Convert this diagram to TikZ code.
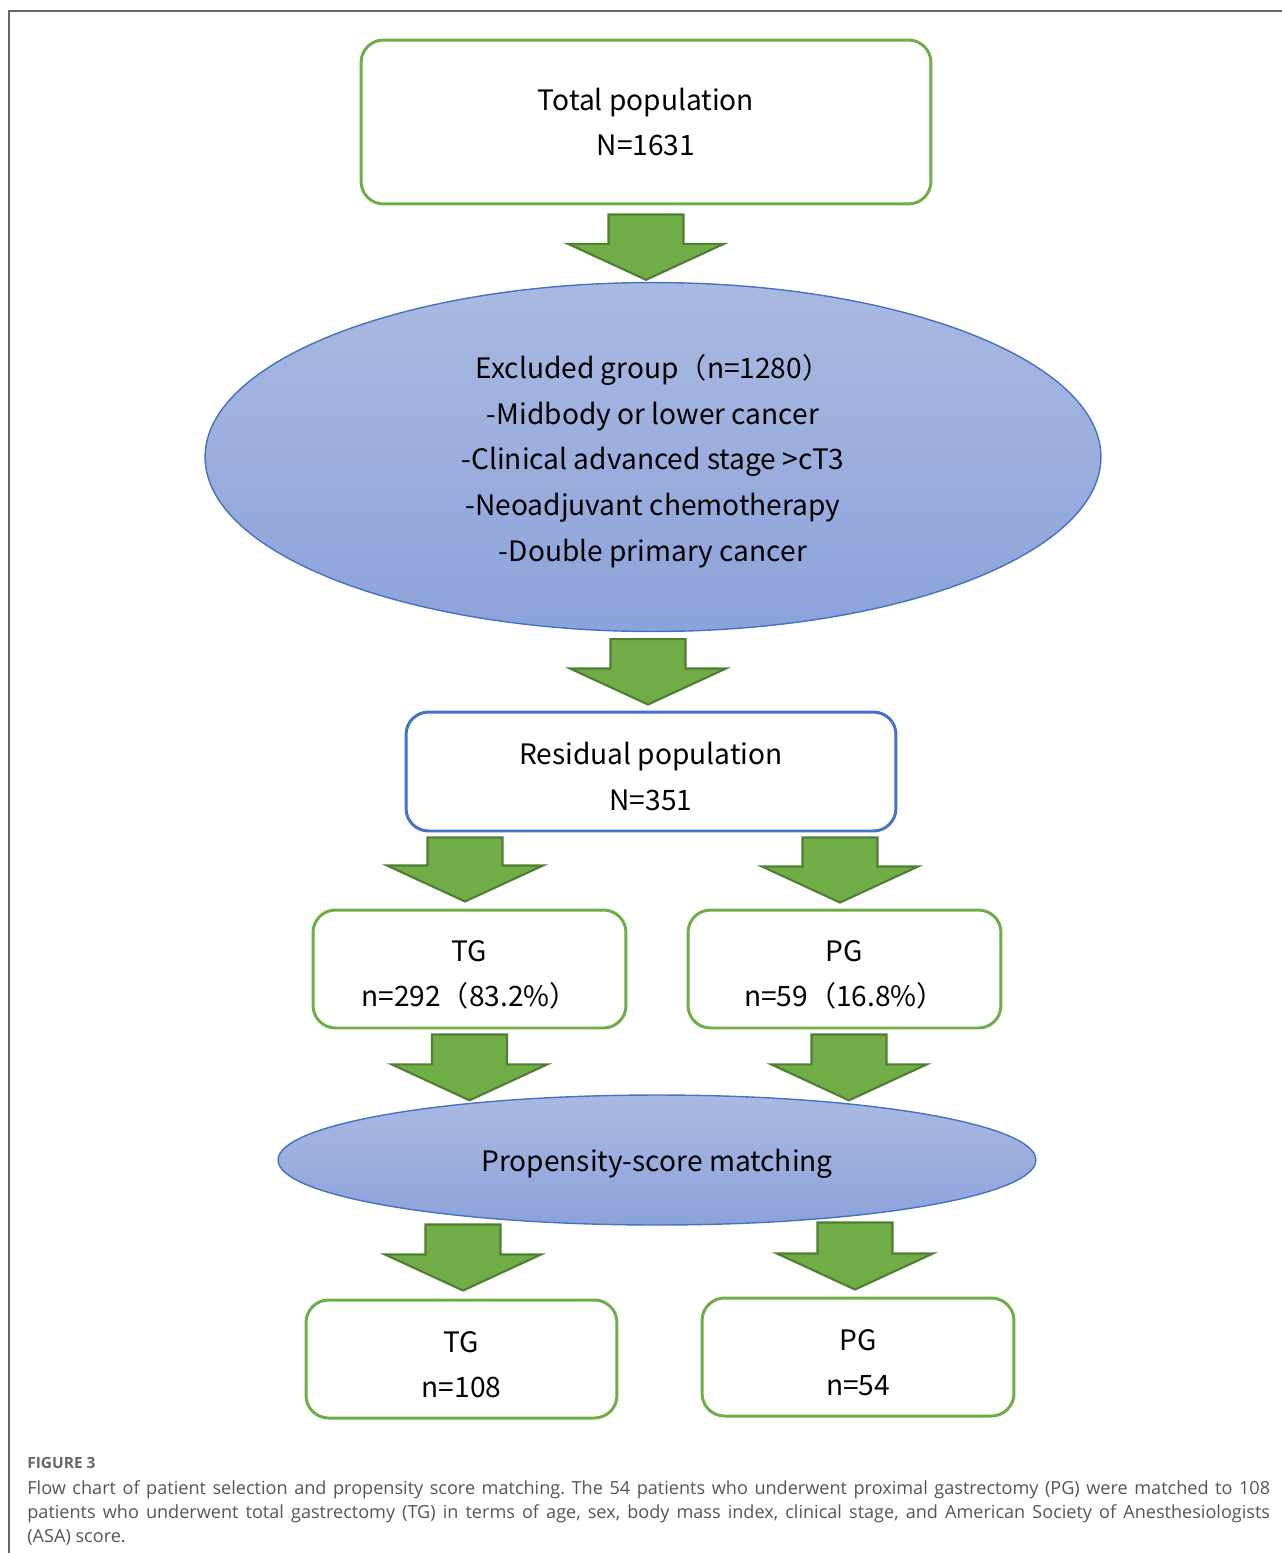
\documentclass[tikz,border=0pt]{standalone}
\usepackage{fontspec}
\setmainfont{Noto Sans CJK SC}
\newfontfamily\capfont{Open Sans}
\usetikzlibrary{shapes.geometric,calc}
\definecolor{boxgreen}{HTML}{70AD47}
\definecolor{arrowedge}{HTML}{507E32}
\definecolor{ellblue}{HTML}{4472C4}
\definecolor{elltop}{HTML}{AAB9E1}
\definecolor{ellbot}{HTML}{8BA2DA}
\definecolor{capgray}{HTML}{555555}
\definecolor{framegray}{HTML}{666666}
\frenchspacing
\newcommand{\upline}{\rule{0pt}{18.5pt}}
\tikzset{
	greenbox/.style={draw=boxgreen,line width=1.7pt,rounded corners=0.45cm,align=center,inner sep=0pt,
		font=\fontsize{16}{26}\selectfont},
	bluebox/.style={greenbox,draw=ellblue},
	blueell/.style={ellipse,draw=ellblue,line width=0.8pt,top color=elltop,bottom color=ellbot,
		align=center,inner sep=0pt,font=\fontsize{16}{26}\selectfont},
	bigarrow/.style={fill=boxgreen,draw=arrowedge,line width=1.2pt,line join=miter}
}
% block arrow: #1 top of shaft, #2 tip (only its y is used)
\newcommand{\garrow}[2]{%
	\draw[bigarrow] let \p1=#1, \p2=#2 in
	(\x1-0.75cm,\y1) -- (\x1+0.75cm,\y1) -- (\x1+0.75cm,\y2+0.72cm) -- (\x1+1.56cm,\y2+0.72cm)
	-- (\x1,\y2) -- (\x1-1.56cm,\y2+0.72cm) -- (\x1-0.75cm,\y2+0.72cm) -- cycle;}

\begin{document}
\begin{tikzpicture}[x=0.02cm,y=-0.02cm]
	\useasboundingbox (0,0) rectangle (1282,1553);
	\draw[framegray,line width=0.8pt] (1282,11) -- (9,11) -- (9,1553);
	
	\node[greenbox,minimum width=11.4cm,minimum height=3.28cm] (total) at (646,122) {Total population\\N=1631};
	\node[blueell,minimum width=17.92cm,minimum height=6.98cm] (excl) at (653,457)
		{\upline Excluded group（n=1280）\\ -Midbody or lower cancer\\-Clinical advanced stage >cT3\\-Neoadjuvant chemotherapy\\ -Double primary cancer};
	\node[bluebox,minimum width=9.8cm,minimum height=2.38cm] (resid) at (651,771.5) {\upline Residual population\\N=351};
	\node[greenbox,minimum width=6.26cm,minimum height=2.36cm] (tgall) at (469.5,969) {\upline TG\\n=292（83.2\%）};
	\node[greenbox,minimum width=6.26cm,minimum height=2.36cm] (pgall) at (844.5,969) {\upline PG\\n=59（16.8\%）};
	\node[blueell,minimum width=15.16cm,minimum height=2.6cm] (psm) at (657,1160) {\rule{0pt}{17pt}Propensity-score matching};
	\node[greenbox,minimum width=6.22cm,minimum height=2.36cm] (tgmatch) at (461.5,1359) {\upline TG\\n=108};
	\node[greenbox,minimum width=6.24cm,minimum height=2.36cm] (pgmatch) at (858,1357) {\upline PG\\n=54};
	
	%arrows
	\garrow{($(total.south)+(0,9)$)}{($(excl.north)+(0,-2)$)}
	\garrow{($(excl.south)+(-5,7)$)}{($(resid.north)+(0,-6)$)}
	\garrow{($(resid.south -| tgall.north)+(-4.5,5)$)}{($(tgall.north)+(0,-7)$)}
	\garrow{($(resid.south -| pgall.north)+(-4.5,5)$)}{($(pgall.north)+(0,-6)$)}
	\garrow{($(tgall.south)+(0,5)$)}{($(psm.north)+(0,6)$)}
	\garrow{($(pgall.south)+(4.5,5)$)}{($(psm.north)+(0,6)$)}
	\garrow{($(tgmatch.north)+(1.5,-74)$)}{($(tgmatch.north)+(0,-8)$)}
	\garrow{($(pgmatch.north)+(-3,-74)$)}{($(pgmatch.north)+(0,-7)$)}
	
	%caption
	\node[anchor=west,inner sep=0pt,text=framegray,font=\capfont\fontsize{8.8}{10}\selectfont\bfseries] (figlabel) at (27,1463) {FIGURE 3};
	\node[anchor=north west,inner sep=0pt,text=capgray,align=left,font=\capfont\fontsize{10.3}{13.6}\selectfont] (caption) at (27,1480)
		{\makebox[24.86cm][s]{Flow chart of patient selection and propensity score matching. The 54 patients who underwent proximal gastrectomy (PG) were matched to 108}\\
		\makebox[24.86cm][s]{patients who underwent total gastrectomy (TG) in terms of age, sex, body mass index, clinical stage, and American Society of Anesthesiologists}\\
		(ASA) score.};
\end{tikzpicture}
\end{document}
